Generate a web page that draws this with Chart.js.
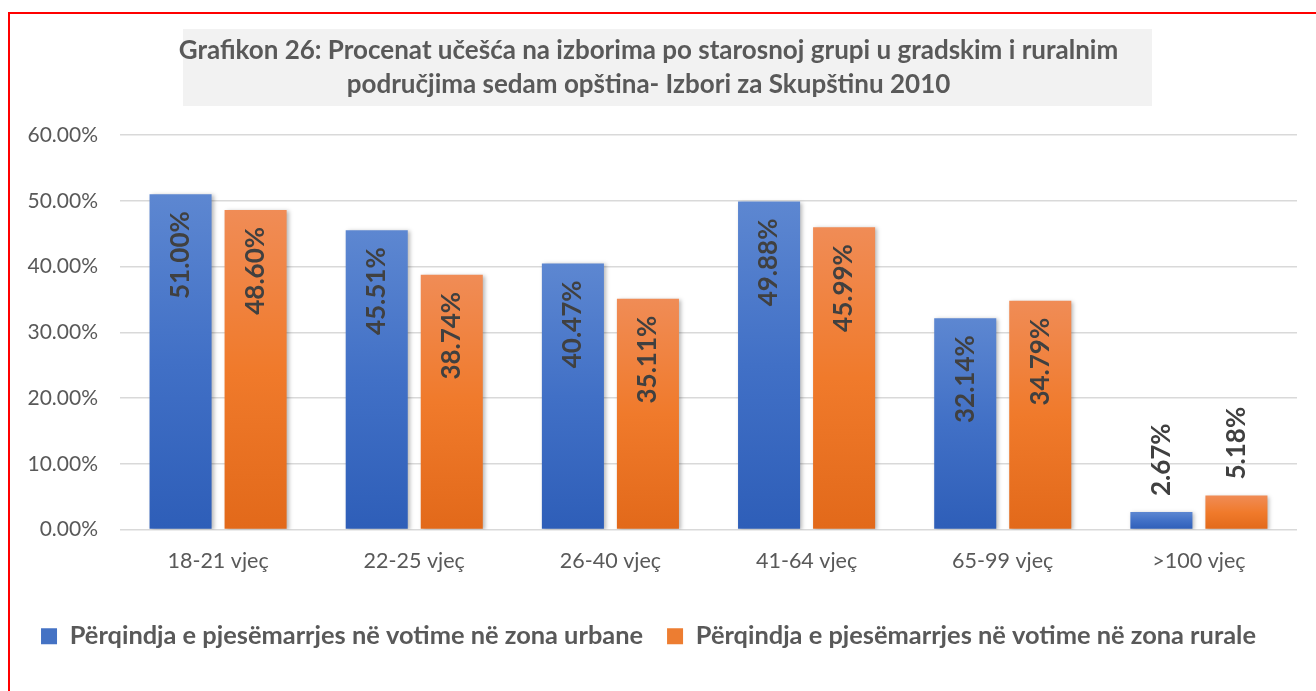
<!DOCTYPE html>
<html>
<head>
<meta charset="utf-8">
<script src="https://cdn.jsdelivr.net/npm/chart.js@4"></script>
<style>
html,body{margin:0;padding:0;background:#fff;}
#wrap{position:relative;width:1316px;height:691px;}
</style>
</head>
<body>
<div id="wrap"><canvas id="c" width="1316" height="691"></canvas></div>
<script>
const categories = ['18-21 vjeç', '22-25 vjeç', '26-40 vjeç', '41-64 vjeç', '65-99 vjeç', '>100 vjeç'];
const urbanValues = [51.00, 45.51, 40.47, 49.88, 32.14, 2.67];
const ruralValues = [48.60, 38.74, 35.11, 45.99, 34.79, 5.18];
const seriesNames = ['Përqindja e pjesëmarrjes në votime në zona urbane', 'Përqindja e pjesëmarrjes në votime në zona rurale'];
const titleLines = ['Grafikon 26: Procenat učešća na izborima po starosnoj grupi u gradskim i ruralnim', 'područjima sedam opština- Izbori za Skupštinu 2010'];
const yTicks = [0, 10, 20, 30, 40, 50, 60];

const FONT = 'Lato';
const TEXT = '#595959';

function grad(top, mid, bottom) {
  return function (ctx) {
    const chart = ctx.chart;
    const ys = chart.scales && chart.scales.y;
    if (!chart.chartArea || !ys || ctx.raw === undefined) return mid;
    const yTop = ys.getPixelForValue(ctx.raw);
    const yBot = ys.getPixelForValue(0);
    if (!isFinite(yTop) || !isFinite(yBot) || yTop === yBot) return mid;
    const g = chart.ctx.createLinearGradient(0, yTop, 0, yBot);
    g.addColorStop(0, top);
    g.addColorStop(0.5, mid);
    g.addColorStop(1, bottom);
    return g;
  };
}

const framePlugin = {
  id: 'frame',
  beforeDraw(chart) {
    const c = chart.ctx;
    c.save();
    c.fillStyle = '#ffffff';
    c.fillRect(0, 0, chart.width, chart.height);
    c.fillStyle = '#F2F2F2';
    c.fillRect(183, 29, 969, 77);
    c.fillStyle = '#FF0000';
    c.fillRect(8, 12, chart.width - 8, 2);
    c.fillRect(8, 12, 2, chart.height - 12);
    c.restore();
  }
};

const shadowPlugin = {
  id: 'barShadow',
  beforeDatasetsDraw(chart) {
    const c = chart.ctx;
    c.save();
    c.shadowColor = 'rgba(0,0,0,0.28)';
    c.shadowBlur = 4;
    c.shadowOffsetX = 2;
    c.shadowOffsetY = 1;
  },
  afterDatasetsDraw(chart) {
    chart.ctx.restore();
  }
};

const labelPlugin = {
  id: 'barLabels',
  afterDatasetsDraw(chart) {
    const c = chart.ctx;
    c.save();
    c.font = 'bold 26px ' + FONT;
    c.fillStyle = '#404040';
    c.textBaseline = 'middle';
    chart.data.datasets.forEach((ds, di) => {
      const meta = chart.getDatasetMeta(di);
      meta.data.forEach((bar, i) => {
        const txt = ds.data[i].toFixed(2) + '%';
        const w = c.measureText(txt).width;
        const h = bar.base - bar.y;
        c.save();
        c.translate(bar.x, bar.y);
        c.rotate(-Math.PI / 2);
        if (w + 34 < h) {
          c.textAlign = 'right';
          c.fillText(txt, -17, 0);
        } else {
          c.textAlign = 'left';
          c.fillText(txt, 16, 0);
        }
        c.restore();
      });
    });
    c.restore();
  }
};

new Chart(document.getElementById('c'), {
  type: 'bar',
  data: {
    labels: categories,
    datasets: [
      { label: seriesNames[0], data: urbanValues, backgroundColor: grad('#5D87D1', '#4170C6', '#2E5EB8'), borderWidth: 0 },
      { label: seriesNames[1], data: ruralValues, backgroundColor: grad('#F08C56', '#F07A2B', '#E2691A'), borderWidth: 0 }
    ]
  },
  plugins: [framePlugin, shadowPlugin, labelPlugin],
  options: {
    responsive: false,
    animation: false,
    devicePixelRatio: 1,
    categoryPercentage: 0.765,
    barPercentage: 0.827,
    layout: { padding: { left: 0, right: 19, top: 0, bottom: 32 } },
    plugins: {
      title: {
        display: true,
        text: titleLines,
        color: TEXT,
        font: { family: FONT, size: 26, weight: 'bold', lineHeight: 1.3077 },
        padding: { top: 34, bottom: 33 }
      },
      legend: {
        position: 'bottom',
        labels: {
          color: TEXT,
          font: { family: FONT, size: 25.4, weight: 'bold' },
          boxWidth: 16,
          boxHeight: 16,
          padding: 24,
          generateLabels(chart) {
            return [
              { text: seriesNames[0], fillStyle: '#4472C4', strokeStyle: '#4472C4', lineWidth: 0, datasetIndex: 0, fontColor: TEXT },
              { text: seriesNames[1], fillStyle: '#ED7D31', strokeStyle: '#ED7D31', lineWidth: 0, datasetIndex: 1, fontColor: TEXT }
            ];
          }
        }
      },
      tooltip: { enabled: false }
    },
    scales: {
      x: {
        grid: { display: false, drawTicks: false },
        border: { display: false },
        ticks: { color: TEXT, font: { family: FONT, size: 21.5 }, padding: 19, maxRotation: 0 },
        afterFit(s) { s.height = 70; }
      },
      y: {
        min: 0,
        max: 60,
        afterBuildTicks(s) { s.ticks = yTicks.map(v => ({ value: v })); },
        grid: { color: '#D9D9D9', lineWidth: 1.5, drawTicks: false },
        border: { display: false },
        ticks: { color: TEXT, font: { family: FONT, size: 21 }, padding: 22, callback: v => Number(v).toFixed(2) + '%' },
        afterFit(s) { s.width = 120; }
      }
    }
  }
});
</script>
</body>
</html>
